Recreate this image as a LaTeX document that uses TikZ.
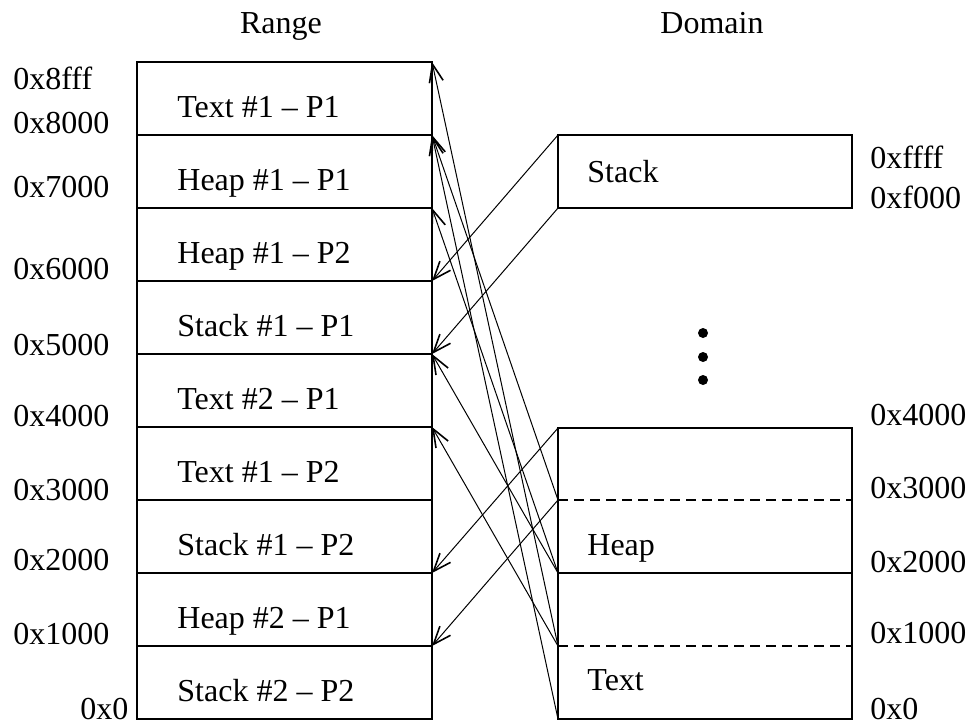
\documentclass[tikz,border=0pt]{standalone}
\usepackage{fontspec}
\setmainfont{Liberation Serif}
\usetikzlibrary{arrows.meta}

\tikzset{
  boxline/.style={line width=0.6pt},
  arrow/.style={-{Straight Barb[length=9pt,width=7pt,line width=0.8pt]}, line width=0.5pt},
  addr/.style={anchor=base west, inner sep=0pt},
  seglabel/.style={anchor=base west, inner sep=0pt},
}

\begin{document}
\begin{tikzpicture}[x=0.5pt, y=-0.5pt, font=\fontsize{16}{19}\selectfont]
\useasboundingbox (0,0) rectangle (972,724);

\node[anchor=base] (range) at (281,33) {Range};
\node[anchor=base] (domain) at (712,33) {Domain};

% range: one row per page
\foreach \lab [count=\i from 0] in {Text \#1 -- P1, Heap \#1 -- P1, Heap \#1 -- P2,
    Stack \#1 -- P1, Text \#2 -- P1, Text \#1 -- P2, Stack \#1 -- P2,
    Heap \#2 -- P1, Stack \#2 -- P2} {
  \draw[boxline] (137,62+73*\i) rectangle (432,135+73*\i);
  \node[seglabel] (lab\i) at (177,117+73*\i) {\lab};
  \coordinate (r\i) at (432,62+73*\i);
}
\coordinate (r9) at (432,719);

\node[addr] (a8fff) at (13,89) {0x8fff};
\node[addr] (a8000) at (13,133) {0x8000};
\node[addr] (a7000) at (13,197) {0x7000};
\node[addr] (a6000) at (13,279) {0x6000};
\node[addr] (a5000) at (13,355) {0x5000};
\node[addr] (a4000) at (13,426) {0x4000};
\node[addr] (a3000) at (13,500) {0x3000};
\node[addr] (a2000) at (13,570) {0x2000};
\node[addr] (a1000) at (13,644) {0x1000};
\node[addr] (a0) at (80,719) {0x0};

% domain
\draw[boxline] (558,135) rectangle (852,208);
\coordinate (s0) at (558,135);
\coordinate (s1) at (558,208);
\node[seglabel] (stack) at (587,182) {Stack};

\draw[boxline] (558,428) rectangle (852,719);
\draw[boxline] (558,573) -- (852,573);
\draw[boxline, dashed, dash pattern=on 5pt off 3pt] (558,500) -- (852,500);
\draw[boxline, dashed, dash pattern=on 5pt off 3pt] (558,646) -- (852,646);
\coordinate (d4) at (558,428);
\coordinate (d3) at (558,500);
\coordinate (d2) at (558,573);
\coordinate (d1) at (558,646);
\coordinate (d0) at (558,719);
\node[seglabel] (heap) at (587,555) {Heap};
\node[seglabel] (text) at (587,690) {Text};

\foreach \y in {333,357,380}
  \fill (703,\y) circle (5);

\node[addr] (bffff) at (870,168) {0xffff};
\node[addr] (bf000) at (870,208) {0xf000};
\node[addr] (b4000) at (870,425) {0x4000};
\node[addr] (b3000) at (870,498) {0x3000};
\node[addr] (b2000) at (870,572) {0x2000};
\node[addr] (b1000) at (870,643) {0x1000};
\node[addr] (b0) at (870,719) {0x0};

% page mappings of P1
\draw[arrow] (d1) -- (r0);
\draw[arrow] (d0) -- (r1);
\draw[arrow] (d3) -- (r1);
\draw[arrow] (d2) -- (r2);
\draw[arrow] (s0) -- (r3);
\draw[arrow] (s1) -- (r4);
\draw[arrow] (d2) -- (r4);
\draw[arrow] (d1) -- (r5);
\draw[arrow] (d4) -- (r7);
\draw[arrow] (d3) -- (r8);
\end{tikzpicture}
\end{document}
